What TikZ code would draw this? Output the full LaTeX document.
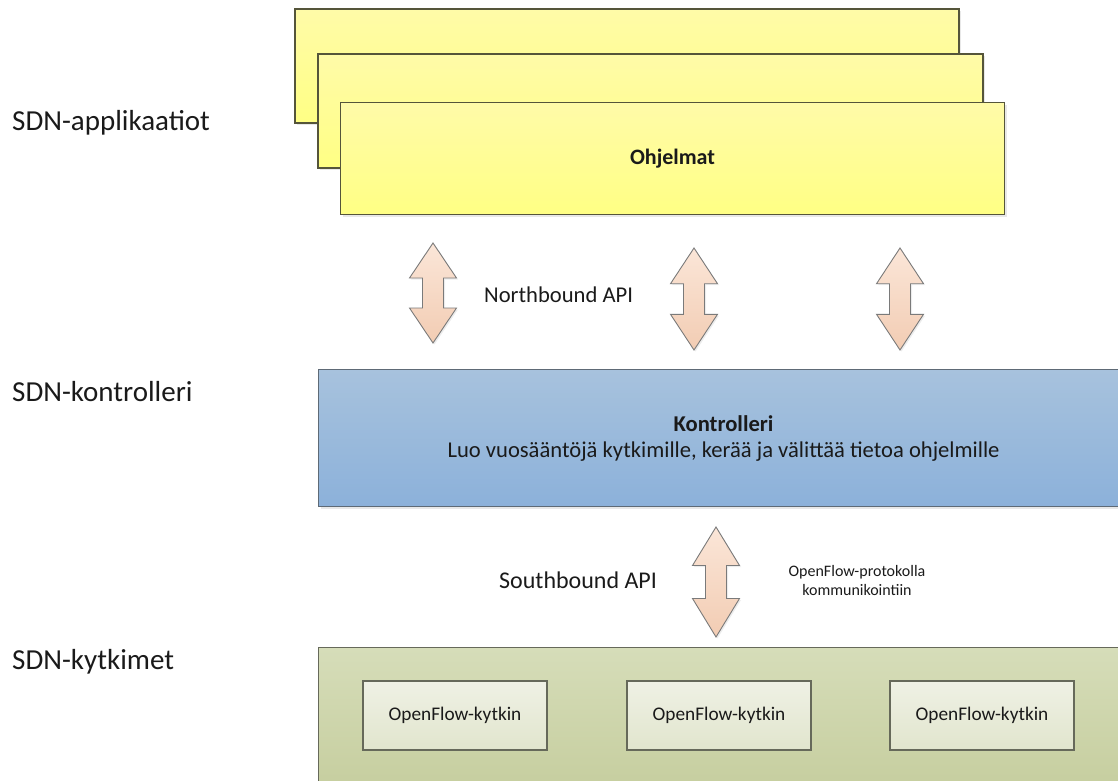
\documentclass[tikz,border=0pt]{standalone}
\usepackage{fontspec}
\setmainfont{Carlito}
\usetikzlibrary{shadows}

\definecolor{apptop}{HTML}{FFFBA8}
\definecolor{appbot}{HTML}{FFFF84}
\definecolor{appline}{HTML}{55553A}
\definecolor{ctltop}{HTML}{A7C2DD}
\definecolor{ctlbot}{HTML}{8CB1DA}
\definecolor{ctlline}{HTML}{5E6A76}
\definecolor{swtop}{HTML}{D6DDB9}
\definecolor{swbot}{HTML}{C6CE9F}
\definecolor{swline}{HTML}{66695A}
\definecolor{unittop}{HTML}{EFF1E5}
\definecolor{unitbot}{HTML}{E1E5CD}
\definecolor{arrtop}{HTML}{FBE6D8}
\definecolor{arrbot}{HTML}{F2CCB3}
\definecolor{arrline}{HTML}{7A7A7A}
\definecolor{ink}{HTML}{1A1A1A}

\tikzset{
  layerlabel/.style={anchor=west, font=\fontsize{29}{34}\selectfont, text=ink, inner sep=0pt},
  apibox/.style={draw=appline, line width=1.1pt, top color=apptop, bottom color=appbot,
                 drop shadow={shadow xshift=2pt, shadow yshift=-2pt, opacity=0.18}},
  ctlbox/.style={draw=ctlline, line width=1.1pt, top color=ctltop, bottom color=ctlbot,
                 drop shadow={shadow xshift=2pt, shadow yshift=-2pt, opacity=0.18}},
  swlayer/.style={draw=swline, line width=1.1pt, top color=swtop, bottom color=swbot},
  unitbox/.style={draw=swline, line width=1.1pt, top color=unittop, bottom color=unitbot,
                  minimum width=184pt, minimum height=69pt, inner sep=0pt,
                  font=\fontsize{19.3}{23}\selectfont, text=ink},
  apitext/.style={anchor=west, text=ink, inner sep=0pt},
  updownshape/.style={draw=arrline, line width=0.9pt, top color=arrtop, bottom color=arrbot,
                      line join=miter,
                      drop shadow={shadow xshift=1.5pt, shadow yshift=-1.5pt, opacity=0.15}},
  % two-headed block arrow, #1 = half of its length
  updown/.pic={
    \path[updownshape] (0,-#1) -- (23.5,{-0.3*#1}) -- (10.5,{-0.3*#1}) -- (10.5,{0.3*#1})
      -- (23.5,{0.3*#1}) -- (0,#1) -- (-23.5,{0.3*#1}) -- (-10.5,{0.3*#1}) -- (-10.5,{-0.3*#1})
      -- (-23.5,{-0.3*#1}) -- cycle;
  }
}

\begin{document}
\begin{tikzpicture}[x=1pt, y=-1pt]
  \useasboundingbox (0,0) rectangle (1118,780);
  \clip (0,0) rectangle (1118,780);

  % layer titles
  \node[layerlabel] (lapp) at (12,123) {SDN-applikaatiot};
  \node[layerlabel] (lctl) at (12,392) {SDN-kontrolleri};
  \node[layerlabel] (lsw)  at (12,662) {SDN-kytkimet};

  % stacked application windows
  \path[apibox] (295,9) rectangle (959,123);
  \path[apibox] (318,54) rectangle (983,168);
  \node[apibox, minimum width=664pt, minimum height=112pt, anchor=north west,
        font=\bfseries\fontsize{22}{26}\selectfont, text=ink] (apps) at (340,102) {Ohjelmat};

  % controller layer
  \node[ctlbox, minimum width=810pt, minimum height=137pt, anchor=north west, align=center,
        font=\fontsize{22.6}{27}\selectfont, text=ink, inner sep=0pt] (ctl) at (318,369)
        {{\bfseries Kontrolleri}\\[-1pt]Luo vuosääntöjä kytkimille, kerää ja välittää tietoa ohjelmille};

  % switch layer
  \node[swlayer, minimum width=810pt, minimum height=140pt, anchor=north west] (sw) at (318,647) {};
  \node[unitbox] (s1) at (455,715.5) {OpenFlow-kytkin};
  \node[unitbox] (s2) at (719,715.5) {OpenFlow-kytkin};
  \node[unitbox] (s3) at (982,715.5) {OpenFlow-kytkin};

  % northbound interface
  \pic at (433,293) {updown=50};
  \pic at (694,299) {updown=51};
  \pic at (900,299) {updown=51};
  \node[apitext, font=\fontsize{22.6}{27}\selectfont] (nb) at (484,295) {Northbound API};

  % southbound interface
  \pic at (716,582) {updown=55};
  \node[apitext, font=\fontsize{24}{29}\selectfont] (sb) at (499,580) {Southbound API};
  \node[align=center, font=\fontsize{16}{19}\selectfont, text=ink, inner sep=0pt] (of)
        at (857,580) {OpenFlow-protokolla\\kommunikointiin};
\end{tikzpicture}
\end{document}
